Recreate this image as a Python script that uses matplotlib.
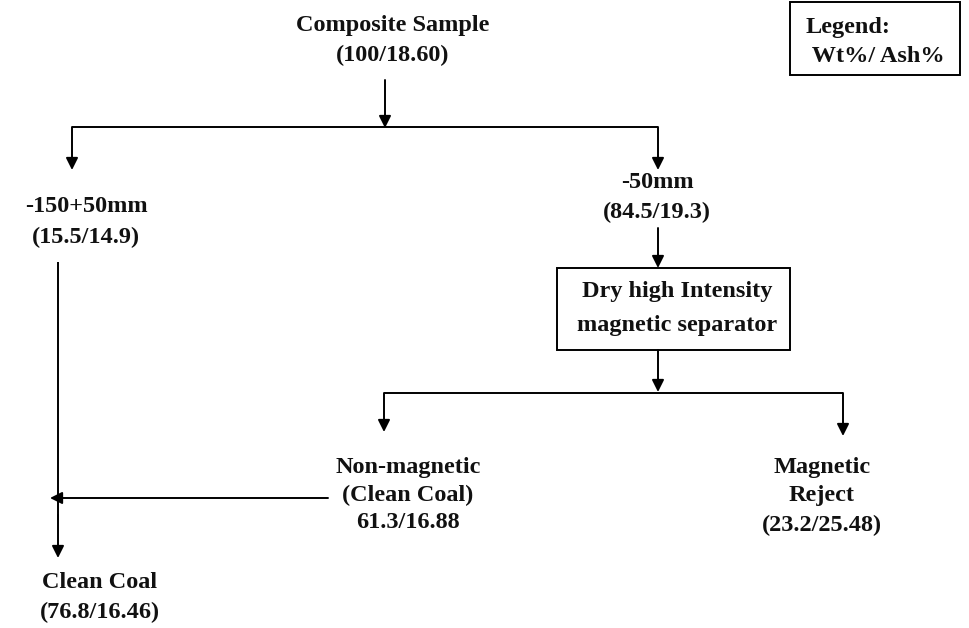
"""
Flowsheet: dry high intensity magnetic separation of coal
"""

import matplotlib
matplotlib.use('Agg')
import matplotlib.pyplot as plt
from matplotlib.patches import Rectangle

# node labels (Wt% / Ash%)
feed_label = ['Composite Sample', '(100/18.60)']
coarse_label = ['-150+50mm', '(15.5/14.9)']
fine_label = ['-50mm', '(84.5/19.3)']
separator_label = ['Dry high Intensity', 'magnetic separator']
nonmag_label = ['Non-magnetic', '(Clean Coal)', '61.3/16.88']
mag_label = ['Magnetic', 'Reject', '(23.2/25.48)']
clean_label = ['Clean Coal', '(76.8/16.46)']
legend_label = ['Legend:', ' Wt%/ Ash%']

W, H = 970, 628
fig = plt.figure(figsize=(W / 100, H / 100), dpi=100)
ax = fig.add_axes([0, 0, 1, 1])
ax.set_xlim(0, W)
ax.set_ylim(H, 0)
ax.axis('off')

font = dict(family='Liberation Serif', fontweight='bold', fontsize=17.5, color='#111111')


def block(x, y, lines, step=30, ha='center'):
    for i, s in enumerate(lines):
        ax.text(x, y + i * step, s, ha=ha, va='center', **font)


def arrow(x0, y0, x1, y1):
    ax.annotate('', xy=(x1, y1), xytext=(x0, y0),
                arrowprops=dict(arrowstyle='-|>', color='black', lw=1.4,
                                mutation_scale=18, shrinkA=0, shrinkB=0))


def line(xs, ys):
    ax.plot(xs, ys, color='black', lw=1.4, solid_capstyle='butt')


# texts
block(393, 25, feed_label)
block(86, 207, coarse_label)
block(657, 182, fine_label)
block(677, 292, separator_label, step=33)
block(408, 467, nonmag_label, step=28)
block(822, 467, mag_label, step=29)
block(100, 583, clean_label, step=29)
block(806, 27, legend_label, ha='left')

# boxes
ax.add_patch(Rectangle((557, 268), 233, 82, fill=False, ec='black', lw=1.4))
ax.add_patch(Rectangle((790, 2), 170, 73, fill=False, ec='black', lw=1.4))

# feed split
arrow(385, 80, 385, 128)
line([72, 658], [127, 127])
arrow(72, 127, 72, 170)
arrow(658, 127, 658, 170)

# fines to separator
arrow(658, 228, 658, 268)
arrow(658, 350, 658, 392)
line([384, 843], [393, 393])
arrow(384, 393, 384, 432)
arrow(843, 393, 843, 436)

# clean coal combination
line([58, 58], [262, 520])
arrow(58, 515, 58, 558)
arrow(328, 498, 50, 498)

fig.savefig('out.png', dpi=100)
